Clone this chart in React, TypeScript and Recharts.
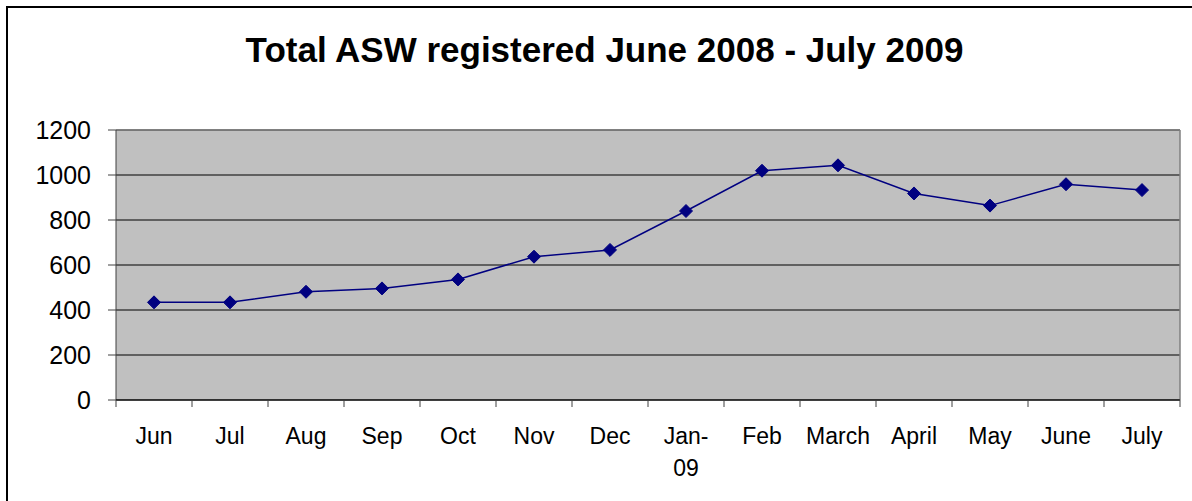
import React from 'react';
import { LineChart, Line, XAxis, YAxis, CartesianGrid, ReferenceLine } from 'recharts';

const categories = ['Jun', 'Jul', 'Aug', 'Sep', 'Oct', 'Nov', 'Dec', 'Jan-09', 'Feb', 'March', 'April', 'May', 'June', 'July'];
const tickLabels = ['Jun', 'Jul', 'Aug', 'Sep', 'Oct', 'Nov', 'Dec', 'Jan-\n09', 'Feb', 'March', 'April', 'May', 'June', 'July'];
const registered = [434, 434, 481, 496, 536, 637, 667, 840, 1019, 1043, 918, 864, 959, 933];
const yTicks = [0, 200, 400, 600, 800, 1000, 1200];
const titleText = 'Total ASW registered June 2008 - July 2009';

const data = categories.map((c, i) => ({ month: c, pos: i + 0.5, value: registered[i] }));
const boundaryTicks = categories.map((_, i) => i).concat([categories.length]);
const centerTicks = categories.map((_, i) => i + 0.5);

const FONT = '"Liberation Sans", Arial, sans-serif';

const Diamond = (props: any) => {
  const { cx, cy } = props;
  if (cx == null || cy == null) return null;
  const s = 6.5;
  return (
    <polygon
      points={`${cx},${cy - s} ${cx + s},${cy} ${cx},${cy + s} ${cx - s},${cy}`}
      fill="#000080"
      stroke="#000080"
      strokeWidth={1}
    />
  );
};

const LabelTick = (props: any) => {
  const { x, y, payload } = props;
  const idx = Math.floor(payload.value);
  const label = tickLabels[idx] ?? '';
  const lines = label.split('\n');
  return (
    <text textAnchor="middle" fontSize={23} fill="#000" fontFamily={FONT}>
      {lines.map((ln, i) => (
        <tspan key={i} x={x} y={y + 36 + i * 32}>{ln}</tspan>
      ))}
    </text>
  );
};

export default function App() {
  return (
    <div style={{ position: 'absolute', left: 0, top: 0, width: 1192, height: 501, background: '#fff', overflow: 'hidden' }}>
      <div style={{ position: 'absolute', left: 6, top: 6, width: 1200, height: 520, border: '2px solid #000', boxSizing: 'border-box' }} />
      <svg width={1192} height={501} style={{ position: 'absolute', left: 0, top: 0 }}>
        <text x={604.5} y={62} textAnchor="middle" fontSize={35} fontWeight="bold" fontFamily={FONT} fill="#000">
          {titleText}
        </text>
      </svg>
      <div style={{ position: 'absolute', left: 0, top: 0 }}>
        <LineChart width={1192} height={501} data={data} margin={{ top: 130, right: 12, bottom: 0, left: 0 }} style={{ fontFamily: FONT }}>
          <CartesianGrid vertical={false} horizontal={true} stroke="#000" fill="#C0C0C0" fillOpacity={1} xAxisId="grid" />
          <YAxis
            domain={[0, 1200]}
            ticks={yTicks}
            width={116}
            tickSize={8}
            tickMargin={17}
            interval={0}
            axisLine={{ stroke: '#404040' }}
            tickLine={{ stroke: '#404040' }}
            tick={{ fontSize: 25, fill: '#000', fontFamily: FONT }}
          />
          <XAxis
            xAxisId="grid"
            type="number"
            dataKey="pos"
            domain={[0, categories.length]}
            ticks={boundaryTicks}
            interval={0}
            tickFormatter={() => ''}
            tickSize={7}
            height={8}
            axisLine={{ stroke: '#000' }}
            tickLine={{ stroke: '#404040' }}
          />
          <XAxis
            xAxisId="labels"
            type="number"
            dataKey="pos"
            domain={[0, categories.length]}
            ticks={centerTicks}
            interval={0}
            tick={<LabelTick />}
            tickSize={0}
            tickMargin={0}
            height={93}
            axisLine={false}
            tickLine={false}
          />
          <ReferenceLine xAxisId="grid" y={1200} stroke="#808080" strokeWidth={1.5} />
          <ReferenceLine xAxisId="grid" x={categories.length} stroke="#808080" strokeWidth={1.5} />
          <Line
            xAxisId="grid"
            type="linear"
            dataKey="value"
            stroke="#000080"
            strokeWidth={1.5}
            dot={<Diamond />}
            activeDot={false}
            isAnimationActive={false}
          />
        </LineChart>
      </div>
    </div>
  );
}
